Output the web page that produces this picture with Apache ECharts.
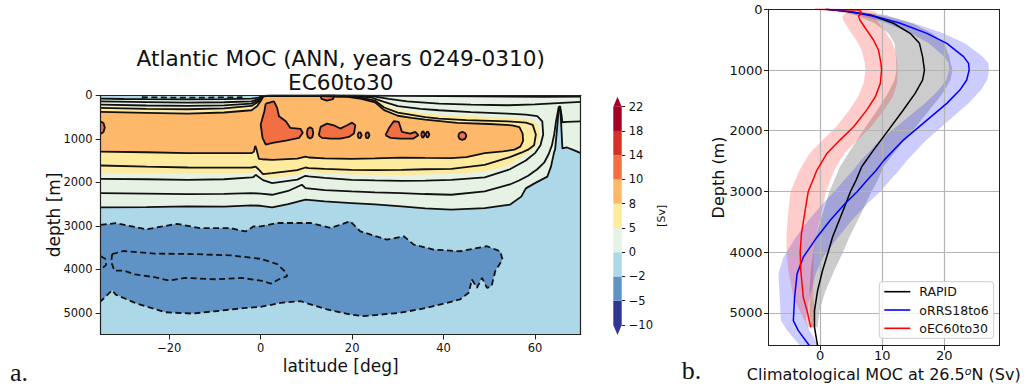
<!DOCTYPE html>
<html><head><meta charset="utf-8">
<script src="https://cdn.jsdelivr.net/npm/echarts@6/dist/echarts.min.js"></script>
<style>html,body{margin:0;padding:0;background:#fff}#c{width:1026px;height:389px}</style>
</head><body><div id="c"></div>
<script>
// ================= Panel a : Atlantic MOC contours =================
const latTicks = [-20, 0, 20, 40, 60];
const depthTicksA = [0, 1000, 2000, 3000, 4000, 5000];
const cbLevels = [-10, -5, -2, 0, 5, 8, 10, 14, 18, 22];
const cbColors = ['#313695', '#6093c5', '#acd8e7', '#e6f2e4', '#feeb9e', '#fdb86a', '#f26e43', '#d73027', '#a50026'];
const cbExtend = ['#313695', '#a50026'];

// contour lines as [latitude, depth] pairs
const c0Upper = [[-35,78],[-30,85],[-25,90],[-16,92],[-8,86],[-2,78],[-0.5,55],[0.2,20],[2,6],[20,4],[30,12],[40,16],[54,30],[62,35],[70,30]];
const c0Lower = [[70,1330],[68.5,1260],[67,1200],[66,1220],[65.7,600],[65.5,280],[65.2,300],[64.8,800],[64.4,1250],[64.2,1300],[63.5,1640],[62.7,1870],[60,2020],[58,2140],[57,2330],[54.5,2516],[49,2593],[41.7,2631],[36,2600],[30.8,2554],[25,2510],[19.9,2478],[14,2440],[9.8,2401],[6,2500],[2.5,2577],[0,2540],[-2,2531],[-8,2560],[-16,2554],[-25,2570],[-35,2577]];
const c2Upper = [[-35,138],[-25,155],[-16,170],[-8,160],[-2,138],[-0.5,90],[0.3,15],[2,8],[18,6],[22,10],[25,30],[28,80],[32,140],[39,192],[46,215],[54,229],[60,210],[65,180],[70,150]];
const c2Lower = [[70,600],[67,610],[66,620],[65.8,450],[65.5,250],[65.2,270],[64.6,600],[64.2,900],[63.7,1150],[63,1350],[62,1550],[60.5,1700],[58.5,1850],[56.5,1960],[54.5,2050],[49,2210],[41.7,2287],[36,2270],[30.8,2249],[25,2230],[19.9,2210],[14,2180],[9.8,2134],[9,2057],[6,2200],[2.5,2287],[0,2260],[-2,2249],[-8,2265],[-16,2272],[-25,2260],[-35,2249]];
const c4 = [[-35,215],[-25,235],[-16,245],[-8,230],[-2,192],[-0.5,120],[0.4,20],[2,10],[16,8],[20,14],[24,45],[27,150],[30,250],[35,310],[39,344],[46,385],[54,421],[58,445],[60.5,480],[61.6,600],[61.8,900],[61.2,1150],[60,1330],[58,1500],[54.5,1700],[49,1889],[41.7,1943],[36,1960],[30.8,1966],[25,1955],[19.9,1943],[14,1900],[10.5,1866],[9.8,1850],[8,1940],[2.5,2019],[0.5,1950],[-1.1,1828],[-1.6,1880],[-2,1889],[-8,1930],[-16,1943],[-25,1930],[-35,1920]];
const c5 = [[-35,255],[-25,270],[-16,285],[-8,270],[-2,220],[-0.5,140],[0.45,22],[2,11],[15,10],[19,16],[23,50],[26,120],[28,260],[30,330],[35,400],[39,450],[46,480],[54,515],[58,545],[59.8,580],[60.8,700],[61,950],[60.3,1150],[59,1300],[57,1420],[54.5,1600],[49,1760],[41.7,1810],[30.8,1830],[19.9,1820],[14,1790],[9.8,1760],[8,1840],[2.5,1900],[0.5,1880],[-1.1,1720],[-2,1790],[-8,1800],[-16,1810],[-25,1790],[-35,1780]];
const c6 = [[-35,291],[-25,310],[-16,321],[-8,300],[-2,245],[-0.5,150],[0.5,25],[2,12],[14,11],[18,18],[22,55],[25,120],[27,280],[30,400],[36,500],[39,536],[45,570],[54,600],[58,630],[59.5,680],[60.2,900],[59.8,1150],[58.5,1250],[57,1320],[54.5,1420],[49,1599],[41.7,1690],[36,1700],[30.8,1713],[25,1720],[19.9,1713],[14,1690],[10.5,1675],[9.8,1660],[8,1720],[2.5,1790],[0.5,1813],[-0.5,1700],[-1.1,1640],[-2,1660],[-8,1665],[-16,1660],[-25,1640],[-35,1614]];
const c8 = [[-35,383],[-25,405],[-16,422],[-8,395],[-2,344],[-0.8,250],[0,130],[0.6,25],[2,14],[12,13],[14,20],[17,35],[19,35],[22,80],[25,160],[27,340],[30,470],[33,520],[36,560],[43,635],[50,660],[55,690],[56.6,730],[57.3,880],[57.4,1050],[56.8,1180],[55.5,1250],[53,1290],[49,1330],[45,1420],[41.7,1446],[36,1440],[30.8,1431],[25,1450],[19.9,1461],[14,1450],[10.5,1430],[9.8,1408],[8,1455],[2.5,1484],[0.3,1470],[-0.4,1461],[-0.9,1250],[-1.2,1163],[-1.5,1300],[-2,1331],[-8,1330],[-16,1331],[-25,1310],[-35,1293]];
const c10Patches = [
  [[1.1,192],[2.9,138],[3.6,291],[4.0,482],[5.5,597],[6.5,750],[8.7,770],[9.2,860],[8.4,979],[5.5,1040],[2.6,1094],[1.1,1132],[0.4,979],[0,673],[0.8,367]],
  [[10.1,865],[10.3,770],[10.8,735],[11.3,770],[11.5,865],[11.3,960],[10.8,995],[10.3,960]],
  [[12.7,918],[13.1,727],[14.5,651],[16.0,689],[17.4,765],[18.9,689],[20.0,628],[20.7,689],[20.4,880],[19.3,956],[17.4,995],[15.3,995],[13.4,979]],
  [[21.2,915],[21.4,860],[21.8,850],[22.1,915],[21.8,985],[21.4,980]],
  [[22.9,915],[23.1,860],[23.5,850],[23.8,915],[23.5,985],[23.1,980]],
  [[27.3,918],[28.0,765],[29.1,597],[30.2,612],[30.9,841],[32.7,880],[33.8,841],[34.5,918],[33.4,995],[30.5,995],[28.4,979]],
  [[35.1,900],[35.3,840],[35.6,830],[35.9,900],[35.6,970],[35.3,965]],
  [[36.1,900],[36.3,845],[36.6,835],[36.9,900],[36.6,965],[36.3,960]],
  [[43.2,933],[43.5,866],[44.1,841],[44.7,866],[45.0,933],[44.7,1000],[44.1,1025],[43.5,1000]],
  [[13,0],[13.3,80],[14.5,120],[15.8,90],[16.2,0]]
];
const c10Edge = [[-35,600],[-34.4,640],[-34.1,740],[-34.4,850],[-35,880]];
const cNeg2 = [[-35,2980],[-31.7,2940],[-25,3080],[-18.3,2956],[-13.3,3055],[-6.6,3055],[-3.3,3130],[-1.6,3017],[0,3013],[3.6,2936],[10.9,2936],[15.3,3051],[19.6,2898],[21.8,3128],[27.6,3319],[31.3,3242],[33.5,3433],[37.8,3548],[43.6,3586],[49.5,3471],[52.4,3586],[52.9,3777],[51.3,4045],[50.5,4389],[49.5,4427],[48.4,4198],[47.3,4427],[46.2,4236],[45.5,4542],[43.6,4695],[36.4,4886],[30.5,5001],[22.5,5078],[19.6,5040],[14.5,4925],[8.7,4734],[4.4,4772],[0,4864],[-3.3,4889],[-10,4965],[-15,5019],[-20.8,4988],[-27.5,4774],[-31.7,4583],[-32.5,4484],[-35,4736]];
const cNeg4 = [[-32.5,3650],[-30,3580],[-23.3,3640],[-15,3650],[-6.6,3680],[0,3760],[3.6,3880],[5.3,4050],[5.8,4160],[4,4230],[2.2,4330],[0,4260],[-4.1,4200],[-10,4230],[-16.6,4200],[-20,4260],[-23.3,4180],[-27.5,4120],[-30,4030],[-32,4030],[-32.7,3830],[-32.5,3650]];
const cNeg4Edge = [[-35,3700],[-34,3760],[-33.8,3900],[-35,4010]];
const cSurfNeg = [[-26,45],[-20,52],[-12,52],[-4,45]];

// ================= Panel b : MOC at 26.5N profiles =================
const mocTicks = [0, 10, 20];
const depthTicksB = [0, 1000, 2000, 3000, 4000, 5000];
const rapidDepth  = [0, 27, 93, 230, 396, 560, 780, 1000, 1165, 1385, 1659, 1989, 2319, 2593, 2813, 3000, 3368, 3753, 4000, 4302, 4632, 4962, 5236, 5540];
const rapidMoc    = [0.8, 3.8, 8.1, 11.8, 14.5, 16.0, 16.5, 16.8, 16.5, 15.3, 13.4, 11.0, 8.6, 6.7, 5.8, 4.9, 3.5, 2.0, 1.3, 0.4, -0.4, -0.9, -0.9, -0.4];
const rapidSpread = [0.4, 1.5, 2.5, 3.0, 3.5, 4.0, 4.3, 4.5, 4.5, 4.4, 4.2, 4.0, 3.7, 3.5, 3.5, 3.4, 3.1, 2.7, 2.4, 1.9, 1.3, 0.8, 0.5, null];
const orrsDepth   = [0, 38, 121, 231, 396, 560, 780, 890, 1000, 1165, 1330, 1549, 1824, 2154, 2484, 2654, 2813, 3000, 3203, 3478, 3753, 4082, 4357, 4742, 5126, 5291, 5540];
const orrsMoc     = [1.0, 4.8, 9.1, 12.9, 17.2, 20.4, 23.1, 23.9, 24.0, 23.6, 22.5, 20.4, 17.2, 13.4, 10.3, 9.0, 7.6, 6.0, 4.0, 1.6, -0.5, -2.7, -3.7, -4.1, -4.3, -3.5, -1.7];
const orrsSpread  = [0.4, 1.2, 1.8, 2.2, 2.6, 2.9, 3.1, 3.2, 3.2, 3.3, 3.4, 3.5, 3.6, 3.7, 3.7, 3.7, 3.7, 3.7, 3.6, 3.5, 3.4, 3.2, 3.0, 2.4, 2.0, 1.8, 1.5];
const ecDepth     = [0, 11, 40, 66, 110, 176, 341, 505, 670, 890, 1000, 1220, 1440, 1660, 1934, 2154, 2374, 2648, 3000, 3313, 3698, 4000, 4302, 4742, 4962, 5236];
const ecMoc       = [-0.8, 6.2, 6.6, 6.7, 6.2, 6.4, 7.5, 8.6, 9.4, 9.8, 9.9, 9.7, 8.9, 7.5, 5.4, 3.2, 1.1, -0.5, -1.9, -2.4, -3.0, -3.2, -3.1, -2.7, -2.1, -1.5];
const ecSpread    = [0.3, 1.5, 2.2, 2.5, 2.6, 2.7, 2.8, 2.8, 2.7, 2.6, 2.6, 2.7, 2.8, 2.8, 2.8, 2.8, 2.8, 2.8, 2.85, 2.7, 2.4, 2.2, 2.0, 1.6, 1.2, 0.5];
const profileNames = ['RAPID', 'oRRS18to6', 'oEC60to30'];

// ================= build chart =================
const FONT = 'DejaVu Sans';
const minus = v => String(v).replace('-', '\u2212');
const plain = v => String(v);
const chart = echarts.init(document.getElementById('c'), null, {renderer: 'svg'});

function polySeries(poly, color, axisIdx, z) {
  return {type: 'custom', xAxisIndex: axisIdx, yAxisIndex: axisIdx, clip: true, z: z, silent: true,
    data: [poly[0]],
    renderItem: (params, api) => ({type: 'polygon', shape: {points: poly.map(p => api.coord(p))}, style: {fill: color}})};
}
function contourLine(pts, dashed) {
  return {type: 'line', xAxisIndex: 0, yAxisIndex: 0, data: pts, symbol: 'none', silent: true, z: 4, clip: true,
    lineStyle: {color: '#111', width: 1.8, type: dashed ? [6, 3.5] : 'solid'}};
}
function bandSeries(depth, moc, spread, color) {
  const lo = [], hi = [];
  depth.forEach((d, i) => { if (spread[i] != null) { lo.push([moc[i] - spread[i], d]); hi.push([moc[i] + spread[i], d]); } });
  const poly = lo.concat(hi.reverse());
  return polySeries(poly, color, 2, 2);
}
function profileLine(name, depth, moc, color) {
  return {name: name, type: 'line', xAxisIndex: 2, yAxisIndex: 2, data: depth.map((d, i) => [moc[i], d]),
    symbol: 'none', silent: true, z: 5, clip: true, lineStyle: {color: color, width: 1.5}, itemStyle: {color: color}};
}
const closed = p => p.concat([p[0]]);

const series = [];
// fills of panel a
series.push(polySeries(c0Upper.concat(c0Lower), cbColors[3], 0, 1));
series.push(polySeries(c5, cbColors[4], 0, 1));
series.push(polySeries(c8, cbColors[5], 0, 1));
c10Patches.forEach(p => series.push(polySeries(p, cbColors[6], 0, 1)));
series.push(polySeries(c10Edge, cbColors[6], 0, 1));
series.push(polySeries(cNeg2, cbColors[1], 0, 1));
// contour lines of panel a
[c0Upper, c0Lower, c2Upper, c2Lower, c4, c6, c8, c10Edge].forEach(p => series.push(contourLine(p, false)));
c10Patches.forEach(p => series.push(contourLine(closed(p), false)));
[cNeg2, closed(cNeg4), cNeg4Edge, cSurfNeg].forEach(p => series.push(contourLine(p, true)));

// colorbar
series.push({type: 'custom', xAxisIndex: 1, yAxisIndex: 1, clip: false, silent: true, z: 2,
  data: cbColors.map((c, i) => [0, i]),
  renderItem: (params, api) => {
    const i = params.dataIndex; const a = api.coord([0, i]); const b = api.coord([1, i + 1]);
    return {type: 'rect', shape: {x: a[0], y: b[1], width: b[0] - a[0], height: a[1] - b[1]}, style: {fill: cbColors[i]}};
  }});
series.push({type: 'custom', xAxisIndex: 1, yAxisIndex: 1, clip: false, silent: true, z: 2,
  data: [[0, 0], [0, cbColors.length]],
  renderItem: (params, api) => {
    const i = params.dataIndex; const v = i === 0 ? 0 : cbColors.length;
    const a = api.coord([0, v]); const b = api.coord([1, v]);
    const tip = i === 0 ? 10 : -10;
    return {type: 'polygon', shape: {points: [a, b, [(a[0] + b[0]) / 2, a[1] + tip]]}, style: {fill: cbExtend[i]}};
  }});

// panel b bands + lines
series.push(bandSeries(rapidDepth, rapidMoc, rapidSpread, 'rgba(0,0,0,0.2)'));
series.push(bandSeries(orrsDepth, orrsMoc, orrsSpread, 'rgba(0,0,255,0.2)'));
series.push(bandSeries(ecDepth, ecMoc, ecSpread, 'rgba(255,0,0,0.2)'));
series.push(profileLine(profileNames[0], rapidDepth, rapidMoc, '#000000'));
series.push(profileLine(profileNames[1], orrsDepth, orrsMoc, '#0000ff'));
series.push(profileLine(profileNames[2], ecDepth, ecMoc, '#ff0000'));

const frameLine = {show: true, onZero: false, lineStyle: {color: '#222', width: 1.2}};
const noLbl = {show: false}, noTick = {show: false}, noSplit = {show: false};

const option = {
  animation: false,
  backgroundColor: '#fff',
  textStyle: {fontFamily: FONT},
  grid: [
    {left: 100.7, top: 95.3, width: 480, height: 239.2, show: true, backgroundColor: cbColors[2], borderWidth: 0, z: 0},
    {left: 613.3, top: 106.7, width: 8.4, height: 218.3},
    {left: 768.5, top: 9.3, width: 230.5, height: 336.4}
  ],
  xAxis: [
    {type: 'value', gridIndex: 0, min: -35, max: 70, z: 10, axisLine: frameLine,
     axisTick: {show: true, length: 5, customValues: latTicks, lineStyle: {color: '#222'}},
     axisLabel: {customValues: latTicks, formatter: minus, fontSize: 11.5, color: '#111', margin: 7, fontFamily: FONT},
     splitLine: noSplit, name: 'latitude [deg]', nameLocation: 'middle', nameGap: 23, nameMoveOverlap: false,
     nameTextStyle: {fontSize: 17, color: '#111', fontFamily: FONT}},
    {type: 'value', gridIndex: 1, min: 0, max: 1, show: false},
    {type: 'value', gridIndex: 2, min: -8.3, max: 28.8, z: 3, minInterval: 10, maxInterval: 10,
     axisLine: {show: true, onZero: false, lineStyle: {color: '#222', width: 1}},
     axisTick: {show: true, length: 4.5, customValues: mocTicks, lineStyle: {color: '#222'}},
     axisLabel: {customValues: mocTicks, formatter: plain, fontSize: 13, color: '#111', margin: 3.5, fontFamily: FONT},
     splitLine: {show: true, lineStyle: {color: '#b4b4b4', width: 1.2}},
     name: 'Climatological MOC at 26.5{s|o}N (Sv)', nameLocation: 'middle', nameGap: 20, nameMoveOverlap: false,
     nameTextStyle: {fontSize: 16, color: '#111', fontFamily: FONT,
       rich: {s: {fontSize: 11, fontStyle: 'italic', fontFamily: FONT, color: '#111', padding: [0, 0, 6, 0]}}}},
    {type: 'value', gridIndex: 0, min: -35, max: 70, position: 'top', z: 10, axisLine: frameLine, axisTick: noTick, axisLabel: noLbl, splitLine: noSplit},
    {type: 'value', gridIndex: 2, min: -8.3, max: 28.8, position: 'top', z: 10, axisLine: {show: true, onZero: false, lineStyle: {color: '#222', width: 1}}, axisTick: noTick, axisLabel: noLbl, splitLine: noSplit}
  ],
  yAxis: [
    {type: 'value', gridIndex: 0, inverse: true, min: 0, max: 5500, z: 10, axisLine: frameLine,
     axisTick: {show: true, length: 5, customValues: depthTicksA, lineStyle: {color: '#222'}},
     axisLabel: {customValues: depthTicksA, formatter: plain, fontSize: 11.5, color: '#111', margin: 8, fontFamily: FONT},
     splitLine: noSplit, name: 'depth [m]', nameLocation: 'middle', nameGap: 38, nameRotate: 90, nameMoveOverlap: false,
     nameTextStyle: {fontSize: 17, color: '#111', fontFamily: FONT}},
    {type: 'value', gridIndex: 1, min: 0, max: cbLevels.length - 1, interval: 1, position: 'right',
     axisLine: {show: false, onZero: false}, axisTick: {show: true, length: 3.5, lineStyle: {color: '#222'}},
     axisLabel: {formatter: v => minus(cbLevels[v]), fontSize: 11.5, color: '#111', margin: 7, fontFamily: FONT},
     splitLine: noSplit, name: '[Sv]', nameLocation: 'middle', nameGap: 34, nameRotate: 90, nameMoveOverlap: false,
     nameTextStyle: {fontSize: 11, color: '#111', fontFamily: FONT}},
    {type: 'value', gridIndex: 2, inverse: true, min: 0, max: 5540, interval: 1000, z: 3,
     axisLine: {show: true, onZero: false, lineStyle: {color: '#222', width: 1}},
     axisTick: {show: true, length: 4.5, customValues: depthTicksB, lineStyle: {color: '#222'}},
     axisLabel: {customValues: depthTicksB, formatter: plain, fontSize: 13, color: '#111', margin: 6, fontFamily: FONT},
     splitLine: {show: true, lineStyle: {color: '#b4b4b4', width: 1.2}},
     name: 'Depth (m)', nameLocation: 'middle', nameGap: 42, nameRotate: 90, nameMoveOverlap: false,
     nameTextStyle: {fontSize: 16, color: '#111', fontFamily: FONT}},
    {type: 'value', gridIndex: 0, inverse: true, min: 0, max: 5500, position: 'right', z: 10, axisLine: frameLine, axisTick: noTick, axisLabel: noLbl, splitLine: noSplit},
    {type: 'value', gridIndex: 2, inverse: true, min: 0, max: 5540, position: 'right', z: 10, axisLine: {show: true, onZero: false, lineStyle: {color: '#222', width: 1}}, axisTick: noTick, axisLabel: noLbl, splitLine: noSplit}
  ],
  legend: {data: profileNames.map(n => ({name: n, icon: 'rect'})), orient: 'vertical', left: 879.3, top: 281.7, padding: [3, 5, 3, 5],
    itemGap: 4.3, itemWidth: 26, itemHeight: 1.6, selectedMode: false,
    backgroundColor: 'rgba(255,255,255,0.85)', borderColor: '#cccccc', borderWidth: 1, borderRadius: 3,
    textStyle: {fontSize: 12.5, color: '#111', fontFamily: FONT, lineHeight: 14, padding: [0, 0, 0, 4]}},
  graphic: [
    {type: 'text', x: 340.7, y: 58.3, z: 20, style: {text: 'Atlantic MOC (ANN, years 0249-0310)', fontSize: 21.6, fontFamily: FONT, fill: '#111', align: 'center', verticalAlign: 'middle', textAlign: 'center', textVerticalAlign: 'middle'}},
    {type: 'text', x: 340.7, y: 82.5, z: 20, style: {text: 'EC60to30', fontSize: 21.6, fontFamily: FONT, fill: '#111', align: 'center', verticalAlign: 'middle', textAlign: 'center', textVerticalAlign: 'middle'}},
    {type: 'text', x: 10, y: 372, z: 20, style: {text: 'a.', fontSize: 26, fontFamily: 'Liberation Serif', fill: '#111', align: 'left', verticalAlign: 'middle', textAlign: 'left', textVerticalAlign: 'middle'}},
    {type: 'text', x: 681.7, y: 370.5, z: 20, style: {text: 'b.', fontSize: 26, fontFamily: 'Liberation Serif', fill: '#111', align: 'left', verticalAlign: 'middle', textAlign: 'left', textVerticalAlign: 'middle'}}
  ],
  series: series
};
chart.setOption(option);
</script></body></html>
